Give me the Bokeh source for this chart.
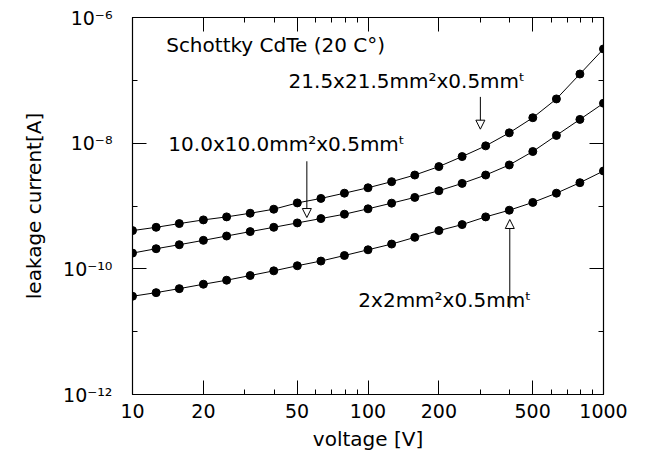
from bokeh.plotting import figure
from bokeh.models import FixedTicker, LogAxis, Label, Arrow, NormalHead
from bokeh.embed import file_html
from bokeh.resources import INLINE

# ---- data -------------------------------------------------------------
voltage = [10, 12.6, 15.8, 20, 25.1, 31.6, 39.8, 50.1, 63.1, 79.4, 100,
           126, 158, 200, 251, 316, 398, 501, 631, 794, 1000]

current_21mm = [4.06e-10, 4.58e-10, 5.25e-10, 6.01e-10, 6.71e-10, 7.67e-10,
                8.89e-10, 1.12e-9, 1.32e-9, 1.60e-9, 1.95e-9, 2.44e-9,
                3.11e-9, 4.24e-9, 6.12e-9, 9.06e-9, 1.46e-8, 2.54e-8,
                5.06e-8, 1.26e-7, 3.16e-7]

current_10mm = [1.78e-10, 2.09e-10, 2.42e-10, 2.84e-10, 3.33e-10, 3.91e-10,
                4.58e-10, 5.38e-10, 6.31e-10, 7.40e-10, 9.02e-10, 1.11e-9,
                1.37e-9, 1.75e-9, 2.29e-9, 3.11e-9, 4.50e-9, 7.36e-9,
                1.33e-8, 2.39e-8, 4.32e-8]

current_2mm = [3.66e-11, 4.18e-11, 4.84e-11, 5.69e-11, 6.59e-11, 7.82e-11,
               9.29e-11, 1.12e-10, 1.33e-10, 1.63e-10, 2.01e-10, 2.48e-10,
               3.17e-10, 4.06e-10, 5.06e-10, 6.71e-10, 8.57e-10, 1.14e-9,
               1.60e-9, 2.35e-9, 3.61e-9]

x_major = [10, 20, 50, 100, 200, 500, 1000]
x_minor = [30, 40, 60, 70, 80, 90, 300, 400, 600, 700, 800, 900]
y_major = [1e-12, 1e-10, 1e-8, 1e-6]
y_minor = [1e-11, 1e-9, 1e-7]
y_labels = ["10\u207b\u00b9\u00b2", "10\u207b\u00b9\u2070", "10\u207b\u2078", "10\u207b\u2076"]

title_text = "Schottky CdTe (20 C\u00b0)"
series_labels = ["21.5x21.5mm\u00b2x0.5mm\u1d57",
                 "10.0x10.0mm\u00b2x0.5mm\u1d57",
                 "2x2mm\u00b2x0.5mm\u1d57"]
title_pos = (13.9, 3.7e-7)
label_pos = [(46.0, 9.8e-8), (14.2, 9.6e-9), (91.0, 3.2e-11)]
arrows = [(300, 5.45e-8, 300, 1.67e-8),
          (55, 5.15e-9, 55, 6.55e-10),
          (400, 2.38e-11, 400, 6.1e-10)]

FONT = "DejaVu Sans"
FS = "19px"
FS_TEXT = "20px"
FS_AXIS = "20px"

# ---- figure -----------------------------------------------------------
p = figure(x_axis_type="log", y_axis_type="log",
           x_range=(10, 1000), y_range=(1e-12, 1e-6),
           frame_width=471, frame_height=377,
           min_border_left=132, min_border_right=40,
           min_border_top=17, min_border_bottom=54,
           output_backend="svg", toolbar_location=None,
           background_fill_color="white", border_fill_color="white")
p.xgrid.visible = False
p.ygrid.visible = False
p.outline_line_color = "black"
p.outline_line_width = 1.2


def style_axis(ax, ticks, minor):
    ax.ticker = FixedTicker(ticks=ticks, minor_ticks=minor)
    ax.major_tick_in = 14
    ax.major_tick_out = 0
    ax.minor_tick_in = 5
    ax.minor_tick_out = 0
    ax.major_tick_line_color = "black"
    ax.minor_tick_line_color = "black"
    ax.axis_line_color = "black"
    ax.major_label_text_font = FONT
    ax.major_label_text_font_size = FS
    ax.major_label_text_color = "black"
    ax.axis_label_text_font = FONT
    ax.axis_label_text_font_size = FS_AXIS
    ax.axis_label_text_font_style = "normal"
    ax.axis_label_text_color = "black"


xa = p.xaxis[0]
style_axis(xa, x_major, x_minor)
xa.axis_label = "voltage [V]"
xa.major_label_standoff = 9
xa.axis_label_standoff = 6
xa.major_label_overrides = {v: str(v) for v in x_major}

ya = p.yaxis[0]
style_axis(ya, y_major, y_minor)
ya.axis_label = "leakage current[A]"
ya.major_label_standoff = 20
ya.axis_label_standoff = 14
ya.major_label_overrides = {v: s for v, s in zip(y_major, y_labels)}

top = LogAxis()
style_axis(top, x_major, x_minor)
top.major_label_standoff = 0
top.major_label_text_font_size = "2px"
top.major_label_overrides = {v: "" for v in x_major}
p.add_layout(top, "above")

right = LogAxis()
style_axis(right, y_major, y_minor)
right.major_label_standoff = 0
right.major_label_text_font_size = "2px"
right.major_label_overrides = {v: "" for v in y_major}
p.add_layout(right, "right")

for ys in (current_21mm, current_10mm, current_2mm):
    p.line(voltage, ys, line_color="black", line_width=1)
    p.scatter(voltage, ys, size=8, fill_color="black", line_color="black")

p.add_layout(Label(x=title_pos[0], y=title_pos[1], text=title_text, text_font=FONT,
                   text_font_size=FS_TEXT, text_baseline="middle", text_color="black"))
for txt, (lx, ly) in zip(series_labels, label_pos):
    p.add_layout(Label(x=lx, y=ly, text=txt, text_font=FONT,
                       text_font_size=FS_TEXT, text_baseline="middle", text_color="black"))

for (x0, y0, x1, y1) in arrows:
    p.add_layout(Arrow(x_start=x0, y_start=y0, x_end=x1, y_end=y1,
                       line_color="black", line_width=1,
                       end=NormalHead(size=9, fill_color="white",
                                      line_color="black", line_width=1)))

open("out.html", "w").write(file_html(p, INLINE))
